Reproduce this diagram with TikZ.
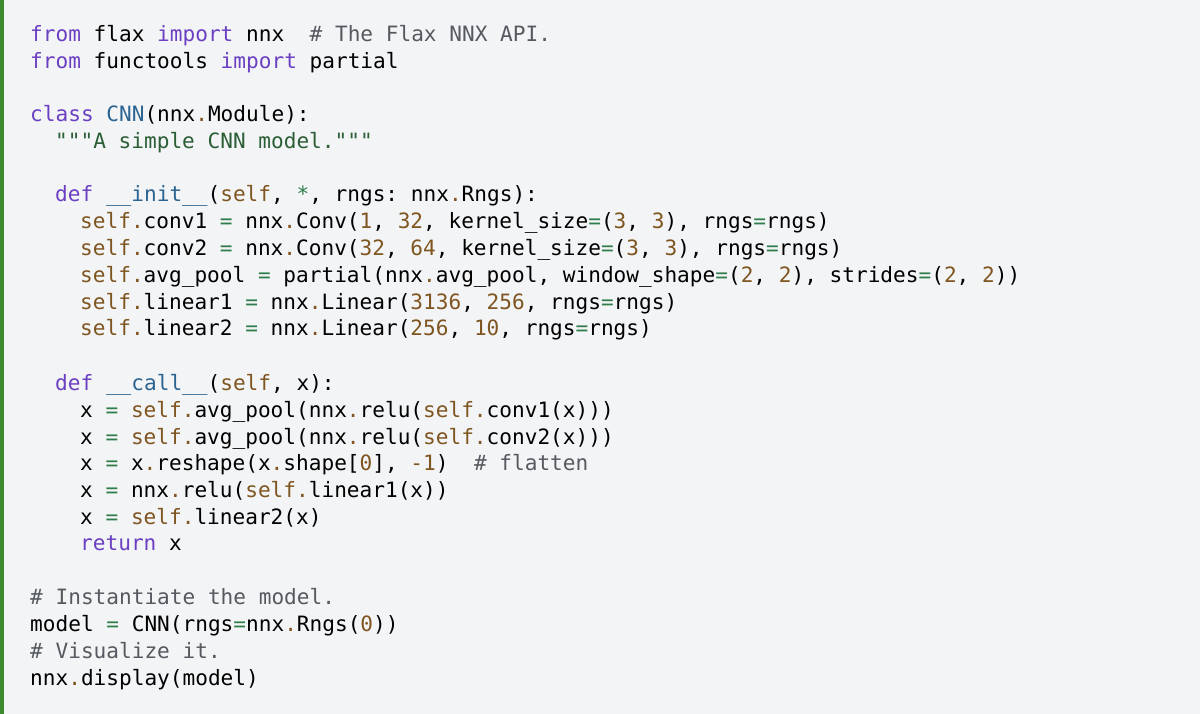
\documentclass[tikz,border=0pt]{standalone}
\usepackage{fontspec}
\setmonofont{DejaVu Sans Mono}
\definecolor{bgcol}{HTML}{F3F4F6}
\definecolor{barcol}{HTML}{3E8A2E}
\definecolor{kwcol}{HTML}{6B3FC2}
\definecolor{fncol}{HTML}{2C6491}
\definecolor{brcol}{HTML}{7F5520}
\definecolor{opcol}{HTML}{2E7D4A}
\definecolor{stcol}{HTML}{2B5E35}
\definecolor{cmcol}{HTML}{555A60}
\newcommand{\kw}[1]{\textcolor{kwcol}{#1}}
\newcommand{\fn}[1]{\textcolor{fncol}{#1}}
\newcommand{\br}[1]{\textcolor{brcol}{#1}}
\newcommand{\op}[1]{\textcolor{opcol}{#1}}
\newcommand{\st}[1]{\textcolor{stcol}{#1}}
\newcommand{\cm}[1]{\textcolor{cmcol}{#1}}
\tikzset{codeline/.style={anchor=base west, inner sep=0pt, font=\ttfamily\fontsize{21.1}{25}\selectfont}}
\begin{document}
\begin{tikzpicture}[x=1pt,y=-1pt]
\useasboundingbox (0,0) rectangle (1200,714);
\fill[bgcol] (0,0) rectangle (1200,714);
\fill[barcol] (0,0) rectangle (4,714);
% imports
\node[codeline] (l1) at (30,42) {\kw{from} flax \kw{import} nnx\ \ \cm{\# The Flax NNX API.}};
\node[codeline] (l2) at (30,69) {\kw{from} functools \kw{import} partial};
% class
\node[codeline] (l4) at (30,122) {\kw{class} \fn{CNN}(nnx\br{.}Module):};
\node[codeline] (l5) at (55,149) {\st{"""A simple CNN model."""}};
\node[codeline] (l7) at (55,202) {\kw{def} \fn{\_\_init\_\_}(\br{self}, \op{*}, rngs: nnx\br{.}Rngs):};
\node[codeline] (l8) at (80,229) {\br{self.}conv1 \op{=} nnx\br{.}Conv(\br{1}, \br{32}, kernel\_size\op{=}(\br{3}, \br{3}), rngs\op{=}rngs)};
\node[codeline] (l9) at (80,256) {\br{self.}conv2 \op{=} nnx\br{.}Conv(\br{32}, \br{64}, kernel\_size\op{=}(\br{3}, \br{3}), rngs\op{=}rngs)};
\node[codeline] (l10) at (80,283) {\br{self.}avg\_pool \op{=} partial(nnx\br{.}avg\_pool, window\_shape\op{=}(\br{2}, \br{2}), strides\op{=}(\br{2}, \br{2}))};
\node[codeline] (l11) at (80,309) {\br{self.}linear1 \op{=} nnx\br{.}Linear(\br{3136}, \br{256}, rngs\op{=}rngs)};
\node[codeline] (l12) at (80,335) {\br{self.}linear2 \op{=} nnx\br{.}Linear(\br{256}, \br{10}, rngs\op{=}rngs)};
% call
\node[codeline] (l14) at (55,390) {\kw{def} \fn{\_\_call\_\_}(\br{self}, x):};
\node[codeline] (l15) at (80,417) {x \op{=} \br{self.}avg\_pool(nnx\br{.}relu(\br{self.}conv1(x)))};
\node[codeline] (l16) at (80,444) {x \op{=} \br{self.}avg\_pool(nnx\br{.}relu(\br{self.}conv2(x)))};
\node[codeline] (l17) at (80,470) {x \op{=} x\br{.}reshape(x\br{.}shape[\br{0}], \br{-1})\ \ \cm{\# flatten}};
\node[codeline] (l18) at (80,497) {x \op{=} nnx\br{.}relu(\br{self.}linear1(x))};
\node[codeline] (l19) at (80,524) {x \op{=} \br{self.}linear2(x)};
\node[codeline] (l20) at (80,550) {\kw{return} x};
% usage
\node[codeline] (l22) at (30,604) {\cm{\# Instantiate the model.}};
\node[codeline] (l23) at (30,631) {model \op{=} CNN(rngs\op{=}nnx\br{.}Rngs(\br{0}))};
\node[codeline] (l24) at (30,658) {\cm{\# Visualize it.}};
\node[codeline] (l25) at (30,685) {nnx\br{.}display(model)};
\end{tikzpicture}
\end{document}
